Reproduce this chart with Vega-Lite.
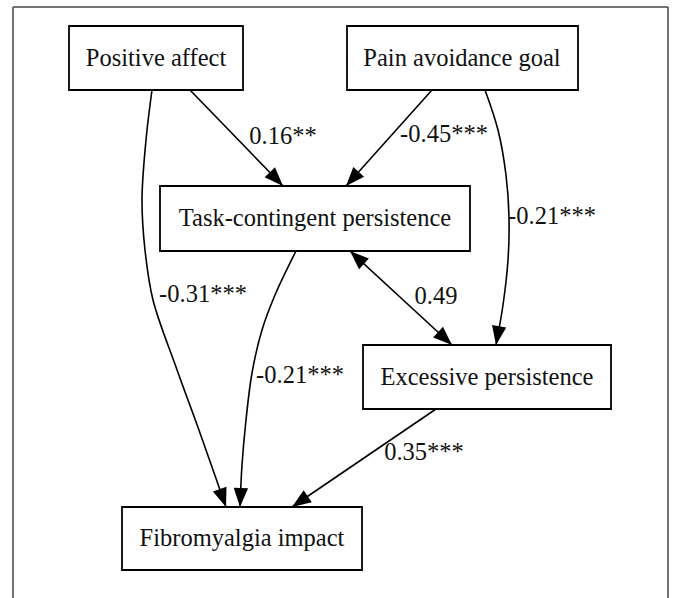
{
  "$schema": "https://vega.github.io/schema/vega-lite/v6.json",
  "width": 675,
  "height": 598,
  "padding": 0,
  "autosize": {"type": "none"},
  "background": "white",
  "config": {"view": {"stroke": null}},
  "datasets": {
    "frame": [
      {"x": 13, "y": 7, "x2": 13, "y2": 598},
      {"x": 13, "y": 7, "x2": 668, "y2": 7},
      {"x": 668, "y": 7, "x2": 668, "y2": 598}
    ],
    "boxes": [
      {"node": "Positive affect", "x1": 69, "x2": 243, "y1": 26, "y2": 90, "cx": 156, "cy": 59},
      {"node": "Pain avoidance goal", "x1": 347, "x2": 578, "y1": 26, "y2": 90, "cx": 462, "cy": 59},
      {"node": "Task-contingent persistence", "x1": 160, "x2": 470, "y1": 186, "y2": 251, "cx": 315, "cy": 219},
      {"node": "Excessive persistence", "x1": 363, "x2": 611, "y1": 345, "y2": 409, "cx": 487, "cy": 378},
      {"node": "Fibromyalgia impact", "x1": 122, "x2": 362, "y1": 507, "y2": 570, "cx": 242, "cy": 539}
    ],
    "edges": [
      {"edge": "PA-TCP", "i": 0, "x": 190, "y": 90},
      {"edge": "PA-TCP", "i": 1, "x": 283, "y": 186},
      {"edge": "PAG-TCP", "i": 0, "x": 432, "y": 90},
      {"edge": "PAG-TCP", "i": 1, "x": 346, "y": 186},
      {"edge": "PAG-EP", "i": 0, "x": 485, "y": 90},
      {"edge": "PAG-EP", "i": 1, "x": 498, "y": 130},
      {"edge": "PAG-EP", "i": 2, "x": 506, "y": 175},
      {"edge": "PAG-EP", "i": 3, "x": 509, "y": 217},
      {"edge": "PAG-EP", "i": 4, "x": 508, "y": 260},
      {"edge": "PAG-EP", "i": 5, "x": 503, "y": 305},
      {"edge": "PAG-EP", "i": 6, "x": 496, "y": 345},
      {"edge": "PA-FI", "i": 0, "x": 152, "y": 90},
      {"edge": "PA-FI", "i": 1, "x": 146, "y": 140},
      {"edge": "PA-FI", "i": 2, "x": 142, "y": 200},
      {"edge": "PA-FI", "i": 3, "x": 145, "y": 250},
      {"edge": "PA-FI", "i": 4, "x": 153, "y": 300},
      {"edge": "PA-FI", "i": 5, "x": 176, "y": 367},
      {"edge": "PA-FI", "i": 6, "x": 200, "y": 433},
      {"edge": "PA-FI", "i": 7, "x": 226, "y": 507},
      {"edge": "TCP-FI", "i": 0, "x": 296, "y": 251},
      {"edge": "TCP-FI", "i": 1, "x": 275, "y": 295},
      {"edge": "TCP-FI", "i": 2, "x": 262, "y": 330},
      {"edge": "TCP-FI", "i": 3, "x": 252, "y": 373},
      {"edge": "TCP-FI", "i": 4, "x": 246, "y": 420},
      {"edge": "TCP-FI", "i": 5, "x": 242, "y": 465},
      {"edge": "TCP-FI", "i": 6, "x": 240, "y": 507},
      {"edge": "TCP-EP", "i": 0, "x": 350, "y": 251},
      {"edge": "TCP-EP", "i": 1, "x": 452, "y": 345},
      {"edge": "EP-FI", "i": 0, "x": 436, "y": 409},
      {"edge": "EP-FI", "i": 1, "x": 292, "y": 507}
    ],
    "heads": [
      {"edge": "PA-TCP", "x": 283, "y": 186, "dir": 136},
      {"edge": "PAG-TCP", "x": 346, "y": 186, "dir": 222},
      {"edge": "PAG-EP", "x": 496, "y": 345, "dir": 189.5},
      {"edge": "PA-FI", "x": 226, "y": 507, "dir": 160.6},
      {"edge": "TCP-FI", "x": 240, "y": 507, "dir": 182.7},
      {"edge": "TCP-EP", "x": 452, "y": 345, "dir": 132.7},
      {"edge": "TCP-EP", "x": 350, "y": 251, "dir": -47.3},
      {"edge": "EP-FI", "x": 292, "y": 507, "dir": 235.8}
    ],
    "labels": [
      {"edge": "PA-TCP", "text": "0.16**", "x": 283, "y": 137},
      {"edge": "PAG-TCP", "text": "-0.45***", "x": 444, "y": 135},
      {"edge": "PAG-EP", "text": "-0.21***", "x": 552, "y": 217},
      {"edge": "PA-FI", "text": "-0.31***", "x": 203, "y": 295},
      {"edge": "TCP-FI", "text": "-0.21***", "x": 300, "y": 376},
      {"edge": "TCP-EP", "text": "0.49", "x": 436, "y": 297},
      {"edge": "EP-FI", "text": "0.35***", "x": 424, "y": 453}
    ]
  },
  "layer": [
    {
      "data": {"name": "frame"},
      "mark": {"type": "rule", "color": "#444444", "strokeWidth": 1.5},
      "encoding": {
        "x": {"field": "x", "type": "quantitative", "scale": {"domain": [0, 675], "nice": false, "zero": false}, "axis": null},
        "y": {"field": "y", "type": "quantitative", "scale": {"domain": [0, 598], "nice": false, "zero": false, "reverse": true}, "axis": null},
        "x2": {"field": "x2"},
        "y2": {"field": "y2"}
      }
    },
    {
      "data": {"name": "edges"},
      "mark": {"type": "line", "color": "black", "strokeWidth": 1.6, "interpolate": "catmull-rom"},
      "encoding": {
        "x": {"field": "x", "type": "quantitative", "scale": {"domain": [0, 675], "nice": false, "zero": false}, "axis": null},
        "y": {"field": "y", "type": "quantitative", "scale": {"domain": [0, 598], "nice": false, "zero": false, "reverse": true}, "axis": null},
        "detail": {"field": "edge"},
        "order": {"field": "i", "type": "quantitative"}
      }
    },
    {
      "data": {"name": "boxes"},
      "mark": {"type": "rect", "fill": "white", "stroke": "black", "strokeWidth": 1.8},
      "encoding": {
        "x": {"field": "x1", "type": "quantitative", "scale": {"domain": [0, 675], "nice": false, "zero": false}, "axis": null},
        "x2": {"field": "x2"},
        "y": {"field": "y1", "type": "quantitative", "scale": {"domain": [0, 598], "nice": false, "zero": false, "reverse": true}, "axis": null},
        "y2": {"field": "y2"}
      }
    },
    {
      "data": {"name": "boxes"},
      "mark": {"type": "text", "font": "Times New Roman, Liberation Serif, serif", "fontSize": 24.5, "color": "#111111", "align": "center", "baseline": "middle"},
      "encoding": {
        "x": {"field": "cx", "type": "quantitative", "scale": {"domain": [0, 675], "nice": false, "zero": false}, "axis": null},
        "y": {"field": "cy", "type": "quantitative", "scale": {"domain": [0, 598], "nice": false, "zero": false, "reverse": true}, "axis": null},
        "text": {"field": "node"}
      }
    },
    {
      "data": {"name": "heads"},
      "mark": {"type": "point", "shape": "M0,0L-0.38,1L0.38,1Z", "filled": true, "color": "black", "opacity": 1, "size": 1444},
      "encoding": {
        "x": {"field": "x", "type": "quantitative", "scale": {"domain": [0, 675], "nice": false, "zero": false}, "axis": null},
        "y": {"field": "y", "type": "quantitative", "scale": {"domain": [0, 598], "nice": false, "zero": false, "reverse": true}, "axis": null},
        "angle": {"field": "dir", "type": "quantitative", "scale": null}
      }
    },
    {
      "data": {"name": "labels"},
      "mark": {"type": "text", "font": "Times New Roman, Liberation Serif, serif", "fontSize": 24.5, "color": "#111111", "align": "center", "baseline": "middle"},
      "encoding": {
        "x": {"field": "x", "type": "quantitative", "scale": {"domain": [0, 675], "nice": false, "zero": false}, "axis": null},
        "y": {"field": "y", "type": "quantitative", "scale": {"domain": [0, 598], "nice": false, "zero": false, "reverse": true}, "axis": null},
        "text": {"field": "text"}
      }
    }
  ]
}
